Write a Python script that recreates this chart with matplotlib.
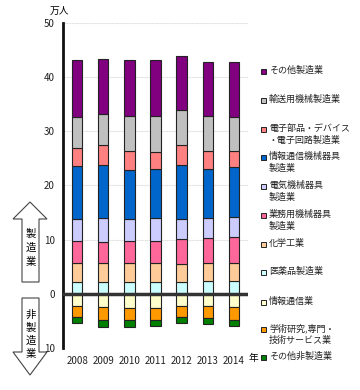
import matplotlib
matplotlib.use("Agg")
import matplotlib.pyplot as plt
from matplotlib.patches import Polygon, Rectangle

plt.rcParams['font.family'] = ['Noto Sans CJK JP', 'DejaVu Sans']

years = ["2008", "2009", "2010", "2011", "2012", "2013", "2014"]

# 製造業 (下から積み上げ)
iyakuhin = [2.1, 2.1, 2.1, 2.1, 2.1, 2.3, 2.3]
kagaku = [3.6, 3.5, 3.6, 3.6, 3.45, 3.4, 3.4]
gyomu = [3.95, 4.0, 3.95, 3.95, 4.65, 4.6, 4.7]
denki = [4.15, 4.4, 4.15, 4.4, 3.6, 3.7, 3.7]
joho_kikai = [9.7, 9.7, 9.0, 9.0, 9.9, 9.1, 9.3]
denshi = [3.4, 3.7, 3.6, 3.1, 3.7, 3.3, 3.0]
yuso = [5.7, 5.85, 6.5, 6.7, 6.6, 6.4, 6.3]
sonota = [10.5, 10.15, 10.2, 10.4, 9.9, 10.0, 10.1]

# 非製造業 (下向き)
joho_tsushin = [2.2, 2.5, 2.6, 2.7, 2.25, 2.2, 2.45]
gakujutsu = [2.05, 2.4, 2.3, 2.2, 2.05, 2.2, 2.35]
sonota_hi = [1.15, 1.2, 1.2, 1.1, 1.1, 1.2, 1.1]

mfg = [
    ("医薬品製造業", iyakuhin, "#CCFFFF"),
    ("化学工業", kagaku, "#FFCC99"),
    ("業務用機械器具\n製造業", gyomu, "#FF6699"),
    ("電気機械器具\n製造業", denki, "#CCCCFF"),
    ("情報通信機械器具\n製造業", joho_kikai, "#0066CC"),
    ("電子部品・デバイス\n・電子回路製造業", denshi, "#FF8080"),
    ("輸送用機械製造業", yuso, "#C0C0C0"),
    ("その他製造業", sonota, "#800080"),
]
non_mfg = [
    ("情報通信業", joho_tsushin, "#FFFFCC"),
    ("学術研究,専門・\n技術サービス業", gakujutsu, "#FF9900"),
    ("その他非製造業", sonota_hi, "#008000"),
]

fig = plt.figure(figsize=(3.6, 3.9), dpi=100)
ax = fig.add_axes([0.175, 0.108, 0.514, 0.833])

x = list(range(len(years)))
w = 0.4
bottom = [0.0] * len(years)
for name, vals, col in mfg:
    ax.bar(x, vals, w, bottom=bottom, color=col, edgecolor="#222222", linewidth=0.8, zorder=3)
    bottom = [b + v for b, v in zip(bottom, vals)]
bottom = [0.0] * len(years)
for name, vals, col in non_mfg:
    neg = [-v for v in vals]
    ax.bar(x, neg, w, bottom=bottom, color=col, edgecolor="#222222", linewidth=0.8, zorder=3)
    bottom = [b + n for b, n in zip(bottom, neg)]

ax.set_xlim(-0.54, 6.54)
ax.set_ylim(-10, 50)
ax.set_yticks([-10, 0, 10, 20, 30, 40, 50])
ax.set_yticklabels(["10", "0", "10", "20", "30", "40", "50"])
ax.set_xticks(x)
ax.set_xticklabels(years)
ax.tick_params(length=0, labelsize=7, colors="#222222", pad=6)
ax.yaxis.grid(True, color="#DDDDDD", linewidth=0.8, linestyle=(0, (1, 0.5)), zorder=0)
for s in ["top", "right", "bottom"]:
    ax.spines[s].set_visible(False)
ax.spines["left"].set_linewidth(2)
ax.spines["left"].set_color("#111111")
ax.axhline(0, color="#333333", linewidth=2.5, zorder=4)

fig.text(50 / 360, 1 - 11 / 390, "万人", fontsize=7, va="center", ha="left")
fig.text(249 / 360, 1 - 358 / 390, "年", fontsize=7, va="center", ha="left")


def fx(px):
    return px / 360


def fy(py):
    return 1 - py / 390


up = [(30, 202), (47, 219), (39, 219), (39, 282), (22, 282), (22, 219), (13, 219)]
down = [(22, 298), (39, 298), (39, 352), (47, 352), (30, 375), (13, 352), (22, 352)]
for pts in (up, down):
    fig.patches.append(Polygon([(fx(a), fy(b)) for a, b in pts], closed=True,
                               facecolor="white", edgecolor="#444444", linewidth=0.8,
                               transform=fig.transFigure))
for i, ch in enumerate("製造業"):
    fig.text(fx(30.5), fy(234 + i * 14), ch, fontsize=7.5, ha="center", va="center")
for i, ch in enumerate("非製造業"):
    fig.text(fx(30.5), fy(315 + i * 13), ch, fontsize=7.5, ha="center", va="center")

# 凡例
legend_y = [71, 100, 129, 157, 186, 215, 244, 272, 302, 329, 357]
entries = list(reversed(mfg)) + non_mfg
for (name, vals, col), py in zip(entries, legend_y):
    fig.patches.append(Rectangle((fx(261), fy(py + 2.5)), 5 / 360, 5 / 390,
                                 facecolor=col, edgecolor="#222222", linewidth=0.7,
                                 transform=fig.transFigure))
    fig.text(fx(269), fy(py - 5), name, fontsize=6.5, ha="left", va="top",
             linespacing=1.35, color="#222222")

fig.savefig("out.png", dpi=100)
